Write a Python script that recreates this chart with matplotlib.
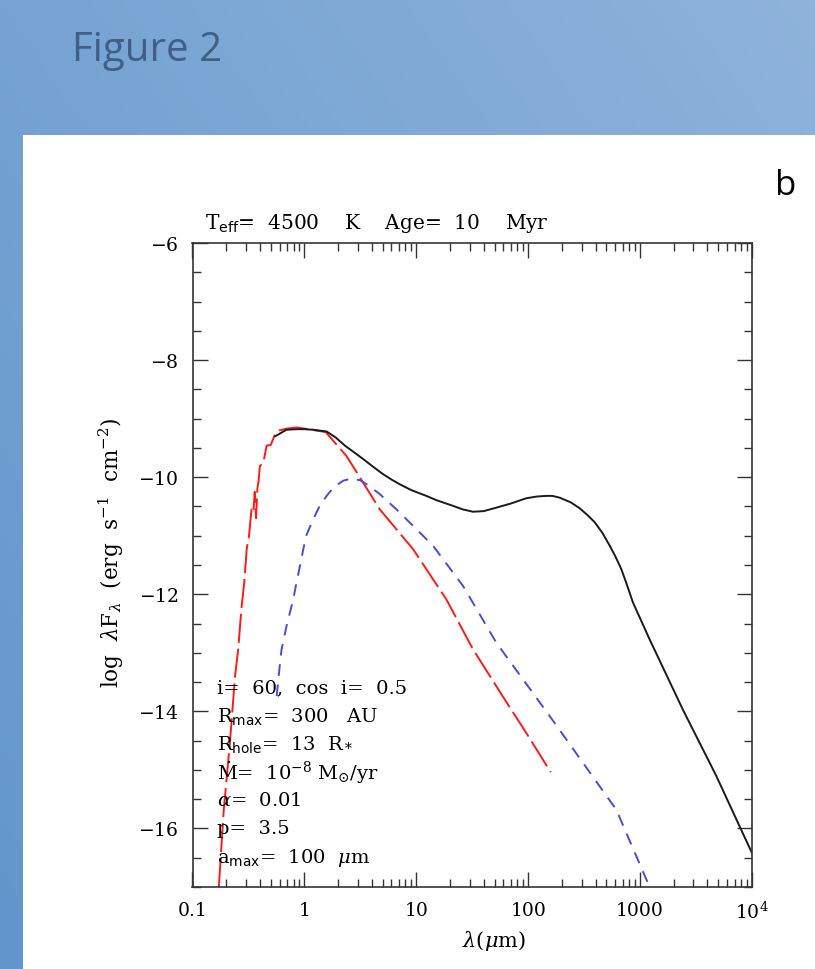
import matplotlib
matplotlib.use("Agg")
import matplotlib.pyplot as plt
import numpy as np
from matplotlib.patches import Rectangle
from matplotlib.ticker import FixedLocator, FixedFormatter, MultipleLocator, LogLocator, NullFormatter

plt.rcParams["font.family"] = ["DejaVu Serif"]
plt.rcParams["mathtext.fontset"] = "dejavuserif"

# stellar photosphere (red long dashes)
lam_star = [0.172, 0.19, 0.216, 0.24, 0.256, 0.275, 0.29, 0.305, 0.32, 0.337, 0.35,
            0.36, 0.37, 0.38, 0.39, 0.40, 0.43, 0.46, 0.50, 0.546, 0.60, 0.70, 0.85,
            1.0, 1.25, 1.55, 2.38, 4.72, 9.36, 18.6, 32.1, 60, 100, 159]
flux_star = [-17.0, -15.7, -14.53, -13.4, -12.94, -12.2, -11.8, -11.23, -11.0, -10.55,
             -10.6, -10.25, -10.7, -10.2, -10.05, -9.81, -9.75, -9.46, -9.45, -9.27, -9.2,
             -9.17, -9.15, -9.17, -9.2, -9.23, -9.64, -10.55, -11.23, -12.09, -12.94,
             -13.76, -14.42, -15.04]

# total SED (black solid)
lam_total = [0.55, 0.69, 0.85, 1.0, 1.2, 1.58, 1.9, 2.3, 2.8, 3.35, 4.1, 5.06, 6.0, 7.1,
             9.0, 12.3, 15.0, 21.3, 26.0, 32.1, 40, 52, 70, 96, 120, 145, 165, 191, 240,
             288, 340, 393, 460, 535, 600, 679, 760, 863, 1216, 2410, 4790, 7730, 10000]
flux_total = [-9.3, -9.19, -9.18, -9.18, -9.19, -9.22, -9.32, -9.46, -9.58, -9.69, -9.82,
              -9.95, -10.04, -10.12, -10.22, -10.32, -10.39, -10.49, -10.55, -10.59,
              -10.58, -10.52, -10.45, -10.36, -10.33, -10.32, -10.32, -10.35, -10.43,
              -10.53, -10.65, -10.77, -10.95, -11.17, -11.35, -11.57, -11.83, -12.14,
              -12.77, -13.97, -15.1, -15.96, -16.42]

# disk emission (blue short dashes)
lam_disk = [0.565, 0.6, 0.625, 0.693, 0.794, 0.85, 0.912, 0.98, 1.047, 1.2, 1.37, 1.58,
            1.81, 2.22, 2.55, 3.13, 3.59, 4.72, 6.65, 14.1, 26.2, 52, 155.6, 309, 613, 1216]
flux_disk = [-13.74, -13.25, -12.94, -12.54, -12.09, -11.8, -11.52, -11.22, -10.98,
             -10.72, -10.49, -10.32, -10.18, -10.06, -10.03, -10.05, -10.12, -10.29,
             -10.55, -11.17, -11.86, -12.83, -14.08, -14.88, -15.68, -17.0]

xtick_vals = [0.1, 1, 10, 100, 1000, 10000]
xtick_labels = ["0.1", "1", "10", "100", "1000", "10$^4$"]
ytick_vals = [-6, -8, -10, -12, -14, -16]

params = [
    "i=  60,  cos  i=  0.5",
    r"R$_{\mathsf{max}}$=  300   AU",
    r"R$_{\mathsf{hole}}$=  13  R$_*$",
    r"$\dot{\mathrm{M}}$=  10$^{-8}$ M$_{\odot}$/yr",
    r"$\alpha$=  0.01",
    "p=  3.5",
    r"a$_{\mathsf{max}}$=  100  $\mu$m",
]

fig = plt.figure(figsize=(8.15, 9.7), dpi=100)

# blue gradient background
bg = fig.add_axes([0, 0, 1, 1])
gx, gy = np.meshgrid(np.linspace(0, 1, 200), np.linspace(1, 0, 200))
t = np.clip(0.55 * gx + 0.45 * gy, 0, 1)[..., None]
c0 = np.array([98, 150, 204]) / 255.0
c1 = np.array([143, 179, 219]) / 255.0
bg.imshow(c0 + (c1 - c0) * t, aspect="auto", extent=[0, 1, 0, 1])
bg.set_axis_off()
fig.patches.append(Rectangle((23 / 815, 0), 1, 1 - 136 / 970, transform=fig.transFigure,
                             facecolor="white", edgecolor="none", zorder=1))
fig.text(72 / 815, 1 - 51 / 970, "Figure 2", fontsize=29, color="#3d5f88",
         family="Open Sans", va="center", ha="left", zorder=3)
fig.text(786 / 815, 1 - 186 / 970, "b", fontsize=25, color="black",
         family="Open Sans", va="center", ha="center", zorder=3)

ax = fig.add_axes([192.5 / 815, 1 - 888 / 970, (752 - 192.5) / 815, (888 - 244) / 970])
ax.set_zorder(2)

ax.plot(lam_star, flux_star, color="#ff1a1a", lw=1.4, dashes=(15, 3))
ax.plot(lam_total, flux_total, color="#1a1a1a", lw=1.4)
ax.plot(lam_disk, flux_disk, color="#4a4ae0", lw=1.4, dashes=(6, 4.5))

ax.set_xscale("log")
ax.set_xlim(0.1, 1e4)
ax.set_ylim(-17, -6)

ax.xaxis.set_major_locator(FixedLocator(xtick_vals))
ax.xaxis.set_major_formatter(FixedFormatter(xtick_labels))
ax.xaxis.set_minor_locator(LogLocator(base=10, subs=np.arange(2, 10), numticks=20))
ax.xaxis.set_minor_formatter(NullFormatter())
ax.yaxis.set_major_locator(FixedLocator(ytick_vals))
ax.yaxis.set_major_formatter(FixedFormatter(["$-$%d" % (-v) for v in ytick_vals]))
ax.yaxis.set_minor_locator(MultipleLocator(0.5))

ax.tick_params(which="both", direction="in", top=True, right=True, color="#333333",
               labelsize=13.5, width=1.0)
ax.tick_params(which="major", length=11)
ax.tick_params(which="minor", length=6)
ax.tick_params(axis="x", which="major", pad=10)
ax.tick_params(axis="y", which="major", pad=10)
for s in ax.spines.values():
    s.set_color("#333333")
    s.set_linewidth(1.2)

ax.set_xlabel(r"$\lambda$($\mu$m)", fontsize=15)
ax.xaxis.set_label_coords((494 - 192.5) / (752 - 192.5), -0.064)
ax.set_ylabel(r"log  $\lambda$F$_{\lambda}$  (erg  s$^{-1}$  cm$^{-2}$)", fontsize=15.5)
ax.yaxis.set_label_coords(-(192.5 - 126) / (752 - 192.5), 0.52)
ax.set_title(r"T$_{\mathsf{eff}}$=  4500    K    Age=  10    Myr", fontsize=14.5,
             loc="left", x=0.022, pad=11)

for k, line in enumerate(params):
    ax.text(0.044, (888 - 688 - 28.3 * k) / (888 - 244), line, transform=ax.transAxes,
            fontsize=14, va="center", ha="left")

fig.savefig("out.png", dpi=100)
